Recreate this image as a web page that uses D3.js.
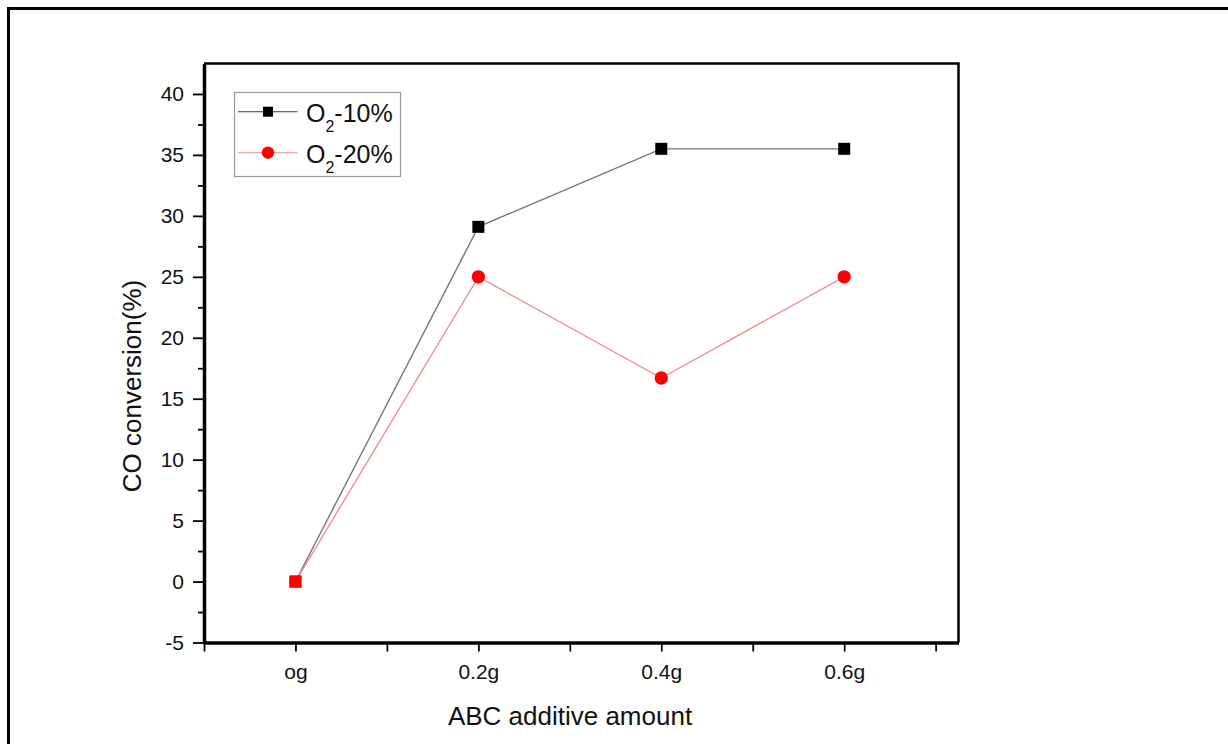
<!DOCTYPE html>
<html>
<head>
<meta charset="utf-8">
<script src="https://cdn.jsdelivr.net/npm/d3@7"></script>
<style>
  body { margin: 0; background: #fff; }
  svg { display: block; font-family: "Liberation Sans", Arial, sans-serif; }
</style>
</head>
<body>
<div id="chart"></div>
<script>
// data
const categories = ["og", "0.2g", "0.4g", "0.6g"];
const o2_10 = [0, 29.1, 35.5, 35.5];
const o2_20 = [0, 25, 16.7, 25];
const o2_20Shapes = ["square", "circle", "circle", "circle"];
const yTicks = [-5, 0, 5, 10, 15, 20, 25, 30, 35, 40];

const W = 1228, H = 744;
const margin = { left: 204, top: 63.5, right: W - 958.5, bottom: H - 642.5 };

const svg = d3.select("#chart").append("svg")
  .attr("width", W).attr("height", H)
  .attr("font-family", "'Liberation Sans', Arial, sans-serif");

// outer frame (left + top only visible)
svg.append("path")
  .attr("d", `M8.5,${H} V8.5 H${W}`)
  .attr("fill", "none").attr("stroke", "#000").attr("stroke-width", 3);

const x = d3.scaleLinear().domain([-0.5, 3.625]).range([margin.left, W - margin.right]);
const y = d3.scaleLinear().domain([-5, 42.5]).range([H - margin.bottom, margin.top]);

// frame of the plot (top + right)
svg.append("path")
  .attr("d", `M${x.range()[0]},${y.range()[1]} H${x.range()[1]} V${y.range()[0]}`)
  .attr("fill", "none").attr("stroke", "#000").attr("stroke-width", 2.5);

// y axis
const yAxis = svg.append("g")
  .attr("transform", `translate(${margin.left},0)`)
  .call(d3.axisLeft(y).tickValues(yTicks).tickSize(11).tickSizeOuter(0).tickPadding(9).tickFormat(d => String(d)));
yAxis.select(".domain").attr("stroke-width", 3.5);
yAxis.selectAll(".tick line").attr("stroke-width", 1.8);
yAxis.selectAll("text").attr("font-size", 21).attr("font-family", null).attr("fill", "#111");
yAxis.attr("font-family", null);

const yMinor = svg.append("g")
  .attr("transform", `translate(${margin.left},0)`)
  .call(d3.axisLeft(y).tickValues(yTicks.slice(0, -1).map(d => d + 2.5)).tickSize(6).tickFormat(""));
yMinor.select(".domain").remove();
yMinor.selectAll(".tick line").attr("stroke-width", 1.8);

// x axis
const xAxis = svg.append("g")
  .attr("transform", `translate(0,${H - margin.bottom})`)
  .call(d3.axisBottom(x).tickValues(d3.range(0, categories.length)).tickSize(9).tickSizeOuter(0).tickPadding(13)
    .tickFormat(i => categories[i]));
xAxis.select(".domain").attr("stroke-width", 3.5);
xAxis.selectAll(".tick line").attr("stroke-width", 1.8);
xAxis.selectAll("text").attr("font-size", 21).attr("fill", "#111");
xAxis.attr("font-family", null);

const xMinor = svg.append("g")
  .attr("transform", `translate(0,${H - margin.bottom})`)
  .call(d3.axisBottom(x).tickValues([-0.5, 0.5, 1.5, 2.5, 3.5]).tickSize(9).tickFormat(""));
xMinor.select(".domain").remove();
xMinor.selectAll(".tick line").attr("stroke-width", 1.8);

// axis titles
svg.append("text")
  .attr("x", 570).attr("y", 725)
  .attr("text-anchor", "middle").attr("font-size", 26).attr("fill", "#111")
  .text("ABC additive amount");
svg.append("text")
  .attr("transform", "translate(141,386) rotate(-90)")
  .attr("text-anchor", "middle").attr("font-size", 26).attr("fill", "#111")
  .text("CO conversion(%)");

const line = d3.line().x((d, i) => x(i)).y(d => y(d));

// series lines
svg.append("path").datum(o2_10)
  .attr("d", line).attr("fill", "none").attr("stroke", "#777").attr("stroke-width", 1.4);
svg.append("path").datum(o2_20)
  .attr("d", line).attr("fill", "none").attr("stroke", "#ee9090").attr("stroke-width", 1.4);

svg.selectAll(".sq").data(o2_10).enter().append("rect")
  .attr("class", "sq")
  .attr("x", (d, i) => x(i) - 6).attr("y", d => y(d) - 6)
  .attr("width", 12).attr("height", 12).attr("fill", "#000");

svg.selectAll(".red").data(o2_20).enter().append("path")
  .attr("class", "red")
  .attr("transform", (d, i) => `translate(${x(i)},${y(d)})`)
  .attr("d", (d, i) => d3.symbol(o2_20Shapes[i] === "square" ? d3.symbolSquare : d3.symbolCircle,
    o2_20Shapes[i] === "square" ? 132 : 140)())
  .attr("fill", "#f00");

// legend
const legend = svg.append("g").attr("transform", "translate(234.5,92.5)");
legend.append("rect").attr("width", 166).attr("height", 84)
  .attr("fill", "#fff").attr("stroke", "#999").attr("stroke-width", 1.2);

const legendRows = [
  { label: "-10%", stroke: "#333", color: "#000", symbol: d3.symbolSquare, size: 100 },
  { label: "-20%", stroke: "#e98a8a", color: "#f00", symbol: d3.symbolCircle, size: 120 }
];
const row = legend.selectAll(".row").data(legendRows).enter().append("g")
  .attr("class", "row")
  .attr("transform", (d, i) => `translate(0,${19.2 + i * 41})`);
row.append("line").attr("x1", 3.5).attr("x2", 63)
  .attr("stroke", d => d.stroke).attr("stroke-width", 1.1);
row.append("path").attr("transform", "translate(33.5,0)")
  .attr("d", d => d3.symbol(d.symbol, d.size)()).attr("fill", d => d.color);
const txt = row.append("text").attr("x", 71.5).attr("y", 10)
  .attr("font-size", 25).attr("fill", "#111");
txt.append("tspan").text("O");
txt.append("tspan").attr("font-size", 16).attr("dy", 10).text("2");
txt.append("tspan").attr("dy", -10).text(d => d.label);
</script>
</body>
</html>
